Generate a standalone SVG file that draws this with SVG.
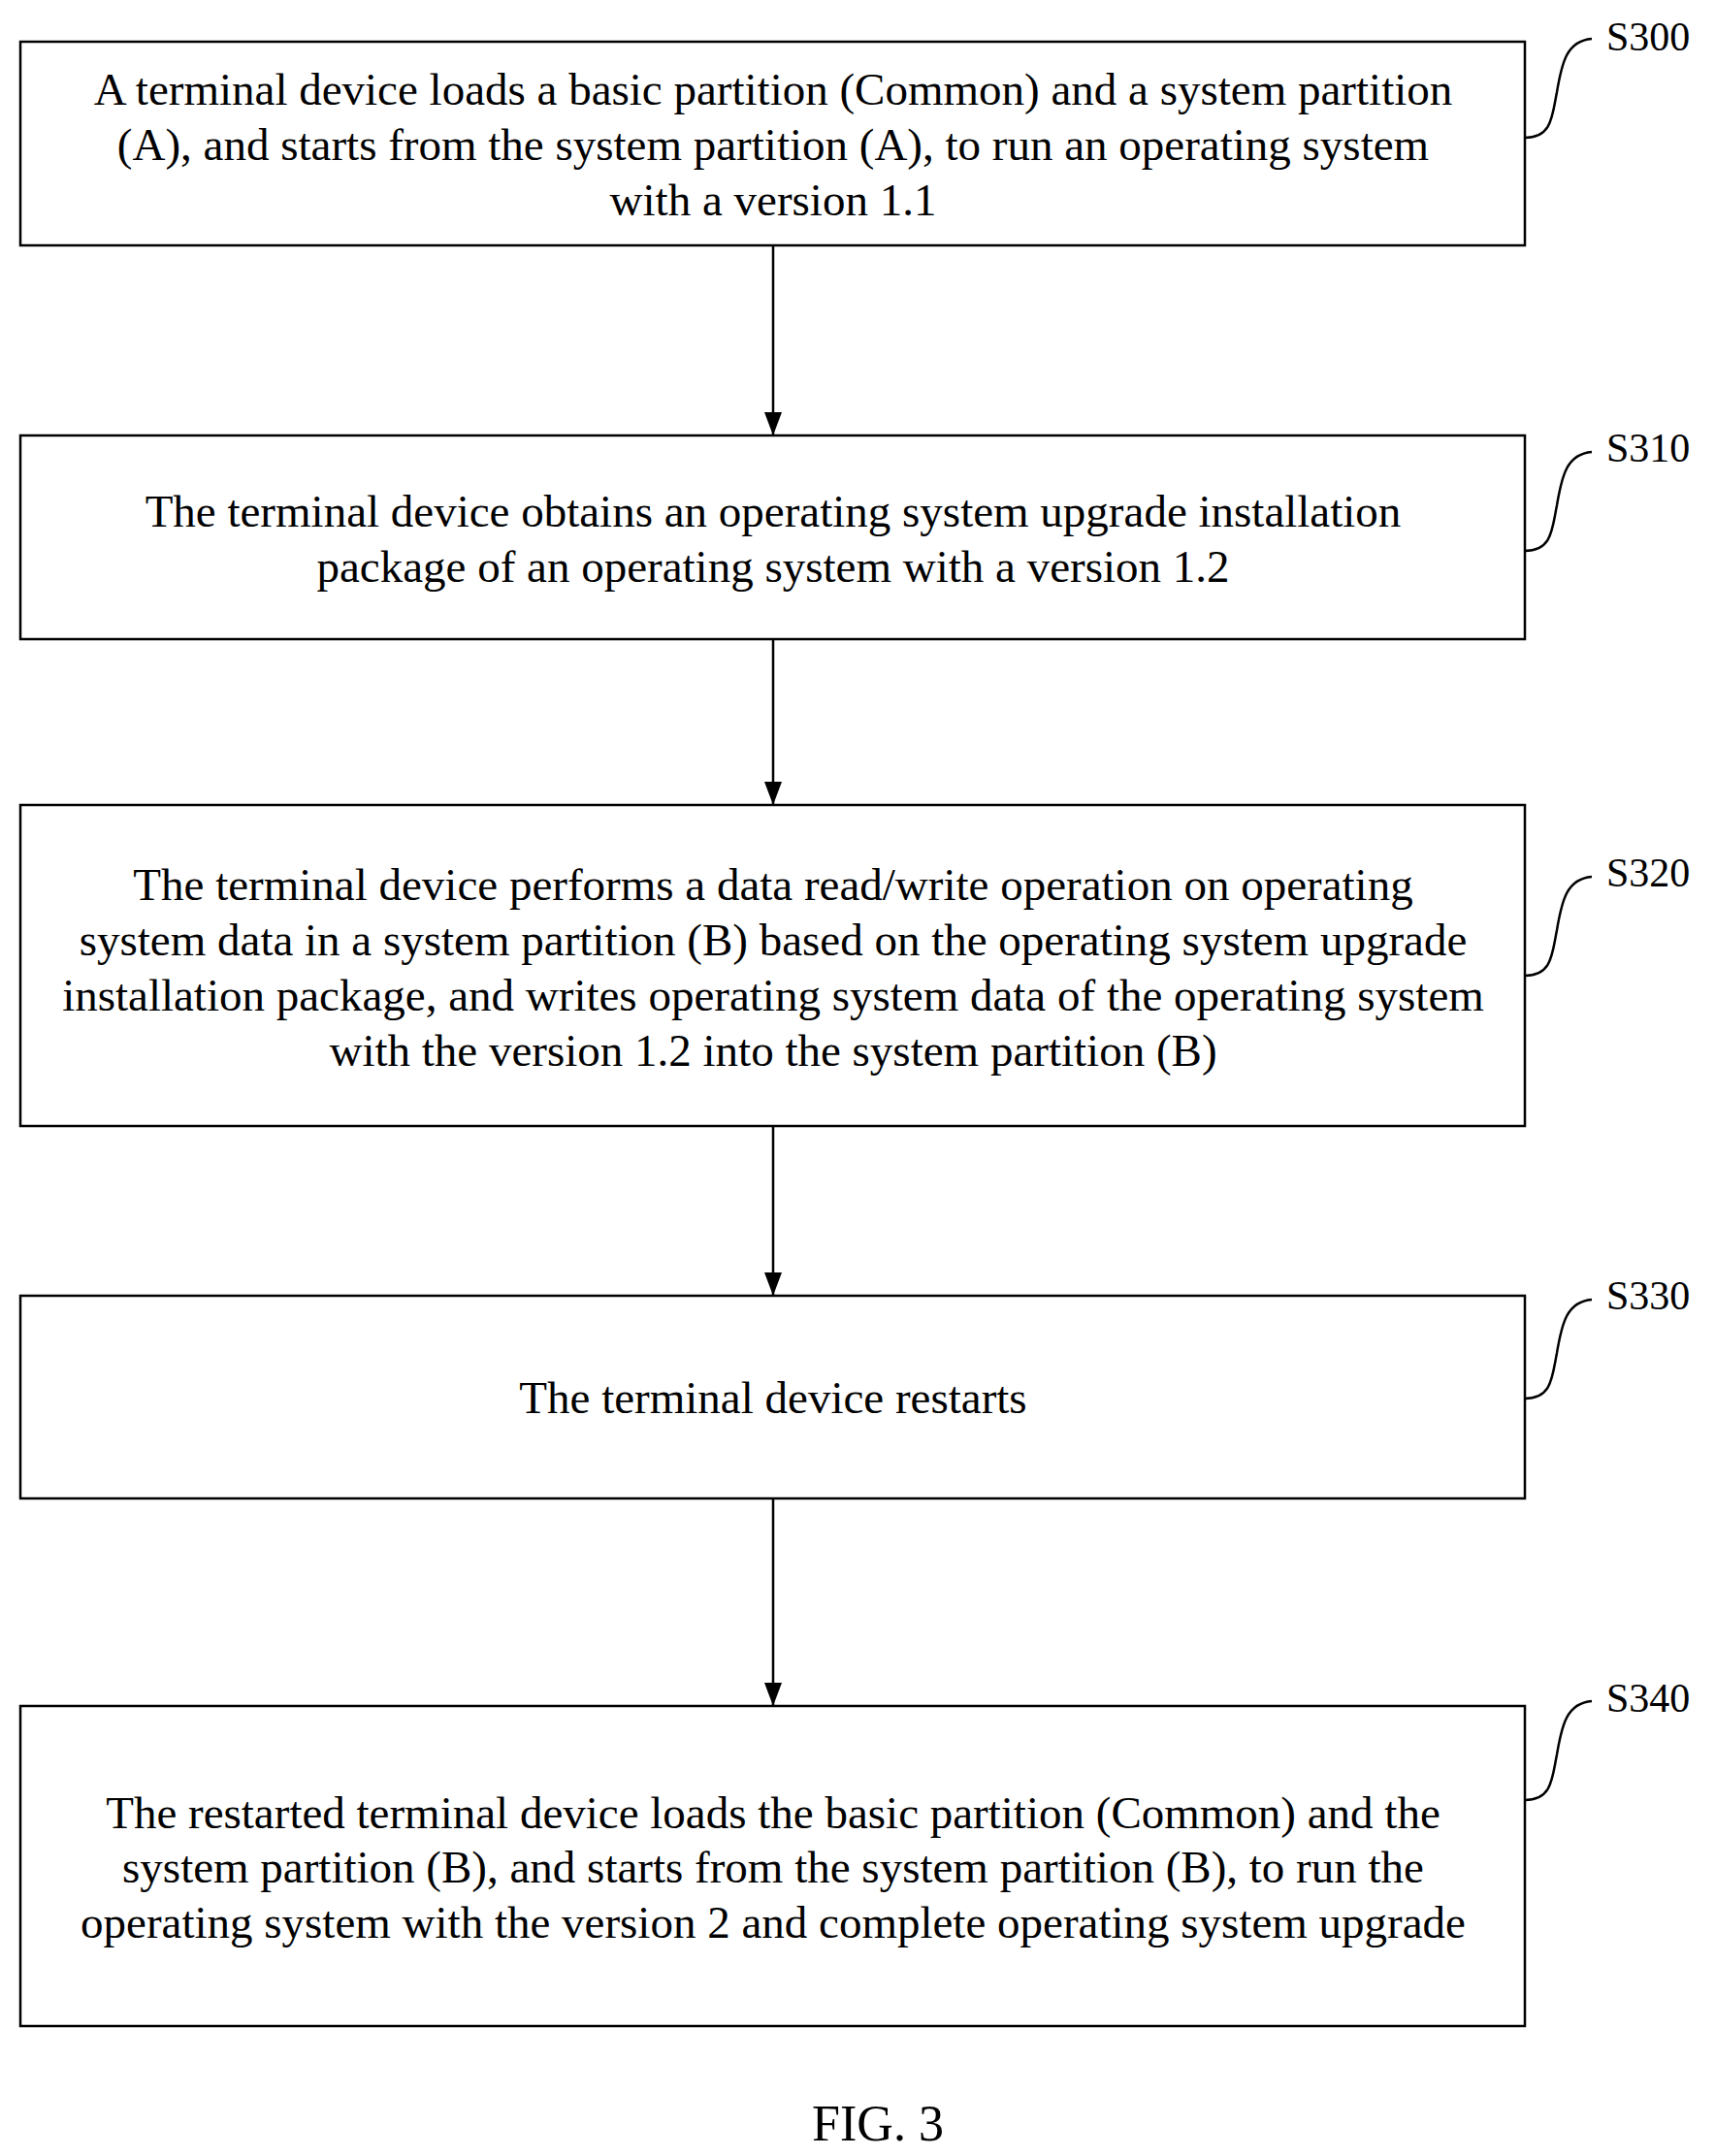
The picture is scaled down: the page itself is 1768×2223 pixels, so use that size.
<svg xmlns="http://www.w3.org/2000/svg" width="1768" height="2223" viewBox="0 0 1768 2223">
<defs>
<style>
.b{fill:#fff;stroke:#000;stroke-width:2.5}
.t{font-family:"Liberation Serif",serif;font-size:47px;text-anchor:middle;fill:#000}
.l{font-family:"Liberation Serif",serif;font-size:42px;fill:#000}
.c{fill:none;stroke:#000;stroke-width:2.5}
</style>
<marker id="a" markerWidth="24" markerHeight="18" refX="24" refY="9" orient="auto" markerUnits="userSpaceOnUse" viewBox="0 0 24 18"><path d="M0,0 L24,9 L0,18 z" fill="#000"/></marker>
</defs>
<rect width="1768" height="2223" fill="#fff"/>
<g id="S300"><rect class="b" x="21" y="43" width="1551" height="210"/>
<text class="t" x="797" y="108">A terminal device loads a basic partition (Common) and a system partition</text>
<text class="t" x="797" y="165">(A), and starts from the system partition (A), to run an operating system</text>
<text class="t" x="797" y="222">with a version 1.1</text>
<path class="c" d="M1572,142 C1600,142 1600,120 1605,95 C1610,65 1615,42 1641,40"/><text class="l" x="1656" y="52">S300</text></g>
<g id="S310"><rect class="b" x="21" y="449" width="1551" height="210"/>
<text class="t" x="797" y="543">The terminal device obtains an operating system upgrade installation</text>
<text class="t" x="797" y="600">package of an operating system with a version 1.2</text>
<path class="c" d="M1572,568 C1600,568 1600,546 1605,521 C1610,491 1615,468 1641,466"/><text class="l" x="1656" y="476">S310</text></g>
<g id="S320"><rect class="b" x="21" y="830" width="1551" height="331"/>
<text class="t" x="797" y="928">The terminal device performs a data read/write operation on operating</text>
<text class="t" x="797" y="985">system data in a system partition (B) based on the operating system upgrade</text>
<text class="t" x="797" y="1042">installation package, and writes operating system data of the operating system</text>
<text class="t" x="797" y="1099">with the version 1.2 into the system partition (B)</text>
<path class="c" d="M1572,1006 C1600,1006 1600,984 1605,959 C1610,929 1615,906 1641,904"/><text class="l" x="1656" y="914">S320</text></g>
<g id="S330"><rect class="b" x="21" y="1336" width="1551" height="209"/>
<text class="t" x="797" y="1457">The terminal device restarts</text>
<path class="c" d="M1572,1442 C1600,1442 1600,1420 1605,1395 C1610,1365 1615,1342 1641,1340"/><text class="l" x="1656" y="1350">S330</text></g>
<g id="S340"><rect class="b" x="21" y="1759" width="1551" height="330"/>
<text class="t" x="797" y="1885">The restarted terminal device loads the basic partition (Common) and the</text>
<text class="t" x="797" y="1941">system partition (B), and starts from the system partition (B), to run the</text>
<text class="t" x="797" y="1998">operating system with the version 2 and complete operating system upgrade</text>
<path class="c" d="M1572,1856 C1600,1856 1600,1834 1605,1809 C1610,1779 1615,1756 1641,1754"/><text class="l" x="1656" y="1765">S340</text></g>
<g id="connectors" stroke="#000" stroke-width="2.5">
<line x1="797" y1="253" x2="797" y2="449" marker-end="url(#a)"/>
<line x1="797" y1="659" x2="797" y2="830" marker-end="url(#a)"/>
<line x1="797" y1="1161" x2="797" y2="1336" marker-end="url(#a)"/>
<line x1="797" y1="1545" x2="797" y2="1759" marker-end="url(#a)"/>
</g>
<text class="t" x="905" y="2207" style="font-size:52px">FIG. 3</text>
</svg>
